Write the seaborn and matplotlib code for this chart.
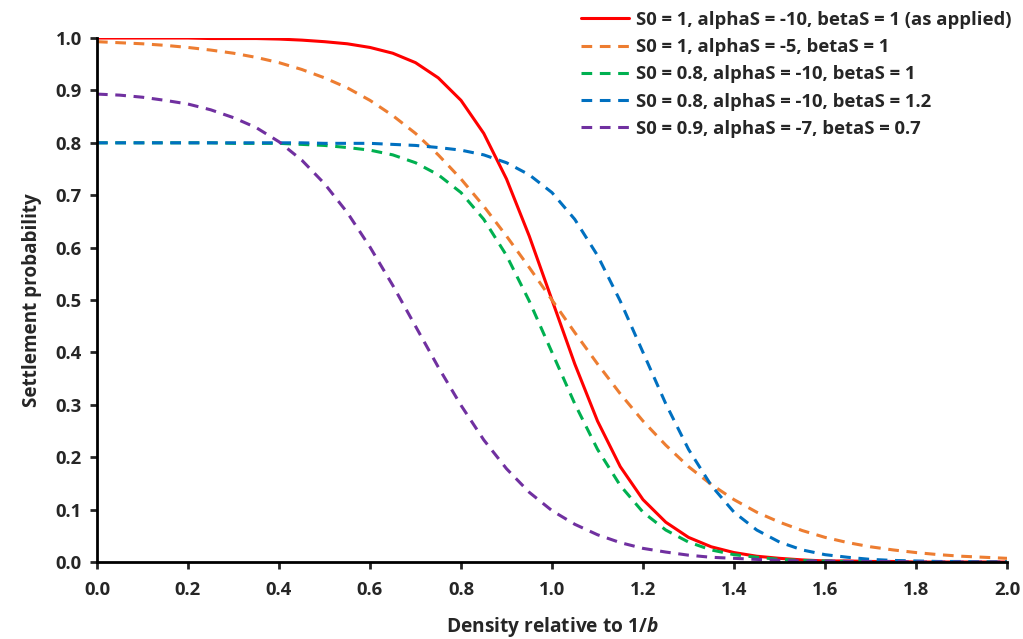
from matplotlib import pyplot as plt
import pandas as pd
import seaborn as sns

# Density values along the x axis (0 to 2, step 0.05)
density = [round(i * 0.05, 2) for i in range(41)]

# Settlement probabilities
red_s0_1_a10_b1 = [1.000, 1.000, 1.000, 1.000, 1.000, 0.999, 0.999, 0.999, 0.998, 0.996,
                   0.993, 0.989, 0.982, 0.971, 0.953, 0.924, 0.881, 0.818, 0.731, 0.622,
                   0.500, 0.378, 0.269, 0.182, 0.119, 0.076, 0.047, 0.029, 0.018, 0.011,
                   0.007, 0.004, 0.002, 0.002, 0.001, 0.001, 0.000, 0.000, 0.000, 0.000, 0.000]
orange_s0_1_a5_b1 = [0.993, 0.991, 0.989, 0.986, 0.982, 0.977, 0.971, 0.963, 0.953, 0.940,
                     0.924, 0.905, 0.881, 0.852, 0.818, 0.777, 0.731, 0.679, 0.622, 0.562,
                     0.500, 0.438, 0.378, 0.321, 0.269, 0.223, 0.182, 0.148, 0.119, 0.095,
                     0.076, 0.060, 0.047, 0.037, 0.029, 0.023, 0.018, 0.014, 0.011, 0.009, 0.007]
green_s0_08_a10_b1 = [0.800, 0.800, 0.800, 0.800, 0.800, 0.800, 0.799, 0.799, 0.799, 0.797,
                      0.795, 0.791, 0.786, 0.777, 0.762, 0.739, 0.705, 0.654, 0.585, 0.498,
                      0.400, 0.302, 0.215, 0.146, 0.095, 0.061, 0.038, 0.023, 0.014, 0.009,
                      0.005, 0.003, 0.002, 0.001, 0.001, 0.000, 0.000, 0.000, 0.000, 0.000, 0.000]
blue_s0_08_a10_b12 = [0.800, 0.800, 0.800, 0.800, 0.800, 0.800, 0.800, 0.800, 0.800, 0.800,
                      0.799, 0.799, 0.799, 0.797, 0.795, 0.791, 0.786, 0.777, 0.762, 0.739,
                      0.705, 0.654, 0.585, 0.498, 0.400, 0.302, 0.215, 0.146, 0.095, 0.061,
                      0.038, 0.023, 0.014, 0.009, 0.005, 0.003, 0.002, 0.001, 0.001, 0.000, 0.000]
purple_s0_09_a7_b07 = [0.893, 0.891, 0.887, 0.881, 0.874, 0.863, 0.848, 0.829, 0.802, 0.767,
                       0.722, 0.667, 0.601, 0.528, 0.450, 0.372, 0.299, 0.233, 0.178, 0.133,
                       0.098, 0.072, 0.052, 0.037, 0.026, 0.019, 0.013, 0.009, 0.007, 0.005,
                       0.003, 0.002, 0.002, 0.001, 0.001, 0.001, 0.000, 0.000, 0.000, 0.000, 0.000]

labels = ['S0 = 1, alphaS = -10, betaS = 1 (as applied)',
          'S0 = 1, alphaS = -5, betaS = 1',
          'S0 = 0.8, alphaS = -10, betaS = 1',
          'S0 = 0.8, alphaS = -10, betaS = 1.2',
          'S0 = 0.9, alphaS = -7, betaS = 0.7']
series = [red_s0_1_a10_b1, orange_s0_1_a5_b1, green_s0_08_a10_b1,
          blue_s0_08_a10_b12, purple_s0_09_a7_b07]
colors = ['#FF0000', '#ED7D31', '#00B050', '#0070C0', '#7030A0']

sns.set_style('white')
plt.rcParams['font.family'] = ['Open Sans', 'DejaVu Sans']
plt.rcParams['font.weight'] = 'bold'
plt.rcParams['mathtext.fontset'] = 'custom'
plt.rcParams['mathtext.it'] = 'Open Sans:italic:bold'
plt.rcParams['mathtext.rm'] = 'Open Sans:bold'

f = plt.figure(figsize=(10.23, 6.39), dpi=100)
ax = f.add_axes([0.0948, 0.1205, 0.8896, 0.82])

for lab, vals, col in zip(labels, series, colors):
    df = pd.DataFrame({'x': density, 'y': vals})
    sns.lineplot(data=df, x='x', y='y', color=col, lw=2.2, ax=ax, label=lab)
    if not lab.endswith('(as applied)'):
        ax.lines[-1].set_dashes((3.5, 2.5))

ax.set_xlim(0, 2.0)
ax.set_ylim(0, 1.0)
ax.set_xticks([i * 0.2 for i in range(11)])
ax.set_yticks([i * 0.1 for i in range(11)])
ax.set_xticklabels([f'{i * 0.2:.1f}' for i in range(11)])
ax.set_yticklabels([f'{i * 0.1:.1f}' for i in range(11)])
ax.tick_params(axis='both', labelsize=13.3, length=5, width=2, direction='out',
               bottom=True, left=True, pad=6)
ax.tick_params(axis='x', pad=9)
sns.despine(ax=ax)
for s in ['left', 'bottom']:
    ax.spines[s].set_linewidth(2)
    ax.spines[s].set_color('black')

ax.set_xlabel('Density relative to $1/b$', fontsize=13.8, fontweight='bold', labelpad=11)
ax.set_ylabel('Settlement probability', fontsize=13.6, fontweight='bold', labelpad=10)

leg = ax.legend(loc='upper right', bbox_to_anchor=(1.013, 1.066), frameon=False,
                fontsize=13.3, handlelength=2.6, handletextpad=0.38, labelspacing=0.5,
                borderaxespad=0)
for t in leg.get_texts():
    t.set_fontweight('bold')

f.savefig('out.png', dpi=100)
